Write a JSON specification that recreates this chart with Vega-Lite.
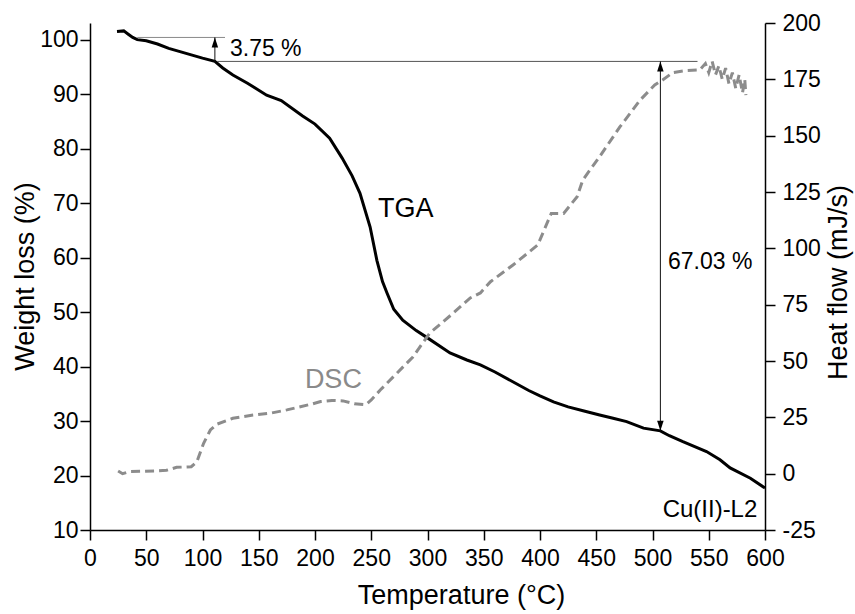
{
  "$schema": "https://vega.github.io/schema/vega-lite/v6.json",
  "width": 675,
  "height": 507,
  "autosize": {"type": "none"},
  "padding": {"left": 90, "top": 23, "right": 90, "bottom": 84},
  "background": "white",
  "config": {
    "view": {"stroke": null},
    "font": "Liberation Sans",
    "axis": {
      "grid": false,
      "domainColor": "black",
      "domainWidth": 1.5,
      "tickColor": "black",
      "tickWidth": 1.5,
      "tickSize": 10,
      "labelFont": "Liberation Sans",
      "labelFontSize": 23,
      "labelColor": "black",
      "titleFont": "Liberation Sans",
      "titleFontSize": 27,
      "titleFontWeight": "normal",
      "titleColor": "black"
    }
  },
  "datasets": {
    "tga": [
      {"T": 24, "v": 101.5}, {"T": 30, "v": 101.6}, {"T": 34, "v": 101.0}, {"T": 38, "v": 100.4},
      {"T": 42, "v": 100.0}, {"T": 50, "v": 99.8}, {"T": 60, "v": 99.2}, {"T": 70, "v": 98.4},
      {"T": 80, "v": 97.8}, {"T": 90, "v": 97.2}, {"T": 100, "v": 96.6}, {"T": 111, "v": 96.0},
      {"T": 118, "v": 94.8}, {"T": 127, "v": 93.5}, {"T": 140, "v": 92.0}, {"T": 157, "v": 89.8},
      {"T": 170, "v": 88.8}, {"T": 189, "v": 86.0}, {"T": 200, "v": 84.5}, {"T": 213, "v": 81.9},
      {"T": 224, "v": 78.3}, {"T": 233, "v": 75.0}, {"T": 240, "v": 71.8}, {"T": 249, "v": 65.6},
      {"T": 255, "v": 59.5}, {"T": 260, "v": 55.6}, {"T": 264, "v": 53.5}, {"T": 270, "v": 50.5},
      {"T": 278, "v": 48.5}, {"T": 290, "v": 46.6}, {"T": 299, "v": 45.4}, {"T": 320, "v": 42.5},
      {"T": 335, "v": 41.2}, {"T": 347, "v": 40.3}, {"T": 360, "v": 39.0}, {"T": 375, "v": 37.3},
      {"T": 390, "v": 35.6}, {"T": 400, "v": 34.6}, {"T": 412, "v": 33.5}, {"T": 425, "v": 32.6},
      {"T": 440, "v": 31.8}, {"T": 453, "v": 31.1}, {"T": 465, "v": 30.5}, {"T": 477, "v": 29.9},
      {"T": 492, "v": 28.7}, {"T": 507, "v": 28.2}, {"T": 515, "v": 27.3}, {"T": 527, "v": 26.2},
      {"T": 548, "v": 24.4}, {"T": 560, "v": 22.9}, {"T": 569, "v": 21.4}, {"T": 587, "v": 19.5},
      {"T": 600, "v": 17.7}
    ],
    "dsc": [
      {"T": 25, "h": 1.2}, {"T": 29, "h": 0}, {"T": 35, "h": 0.9}, {"T": 59, "h": 1.2},
      {"T": 68, "h": 1.5}, {"T": 77, "h": 2.8}, {"T": 90, "h": 3.1}, {"T": 95, "h": 5.3},
      {"T": 101, "h": 13.5}, {"T": 107, "h": 19.4}, {"T": 113, "h": 22.0}, {"T": 127, "h": 24.6},
      {"T": 145, "h": 26.0}, {"T": 160, "h": 26.8}, {"T": 175, "h": 28.3}, {"T": 187, "h": 29.7},
      {"T": 198, "h": 31.0}, {"T": 205, "h": 32.0}, {"T": 215, "h": 32.5}, {"T": 225, "h": 32.3},
      {"T": 235, "h": 31.0}, {"T": 245, "h": 30.6}, {"T": 250, "h": 32.7}, {"T": 258, "h": 37.1},
      {"T": 273, "h": 44.7}, {"T": 287, "h": 51.8}, {"T": 302, "h": 62.4}, {"T": 323, "h": 71.3},
      {"T": 338, "h": 78.0}, {"T": 347, "h": 80.2}, {"T": 356, "h": 85.2}, {"T": 376, "h": 92.6},
      {"T": 398, "h": 101.5}, {"T": 410, "h": 115.5}, {"T": 421, "h": 115.5}, {"T": 433, "h": 122.9},
      {"T": 438, "h": 130.3}, {"T": 453, "h": 140.7}, {"T": 471, "h": 153.9}, {"T": 489, "h": 165.8},
      {"T": 502, "h": 172.5}, {"T": 509, "h": 174.7}, {"T": 518, "h": 178.0}, {"T": 530, "h": 178.9},
      {"T": 542, "h": 179.2}, {"T": 547, "h": 182.0}, {"T": 550, "h": 178.0}, {"T": 553, "h": 183.0},
      {"T": 556, "h": 177.0}, {"T": 559, "h": 181.0}, {"T": 562, "h": 175.0}, {"T": 565, "h": 180.0},
      {"T": 568, "h": 173.0}, {"T": 571, "h": 178.0}, {"T": 574, "h": 171.0}, {"T": 577, "h": 177.0},
      {"T": 580, "h": 169.0}, {"T": 582, "h": 175.0}, {"T": 583, "h": 168.0}
    ],
    "rules": [
      {"T": 42, "T2": 120, "v": 100.4, "v2": 100.4, "kind": "bracket"},
      {"T": 113, "T2": 540, "v": 96.0, "v2": 96.0, "kind": "baseline"},
      {"T": 111, "T2": 111, "v": 96.0, "v2": 100.4, "kind": "arrow"},
      {"T": 507, "T2": 507, "v": 28.2, "v2": 96.0, "kind": "arrow"}
    ],
    "heads": [
      {"T": 111, "v": 100.4, "dir": "up"},
      {"T": 507, "v": 96.0, "dir": "up"},
      {"T": 507, "v": 28.2, "dir": "down"}
    ],
    "labels": [
      {"T": 124.4, "v": 98.3, "text": "3.75 %", "kind": "value"},
      {"T": 513.8, "v": 59.2, "text": "67.03 %", "kind": "value"},
      {"T": 256, "v": 68.9, "text": "TGA", "kind": "tga"},
      {"T": 191, "v": 37.5, "text": "DSC", "kind": "dsc"},
      {"T": 509, "v": 13.7, "text": "Cu(II)-L2", "kind": "sample"}
    ]
  },
  "layer": [
    {
      "layer": [
        {
          "data": {"name": "tga"},
          "mark": {"type": "line", "color": "black", "strokeWidth": 3},
          "encoding": {
            "x": {
              "field": "T", "type": "quantitative",
              "scale": {"domain": [0, 600], "nice": false, "zero": false},
              "axis": {
                "title": "Temperature (°C)",
                "values": [0, 50, 100, 150, 200, 250, 300, 350, 400, 450, 500, 550, 600],
                "labelPadding": 7,
                "labelFlush": false,
                "labelOverlap": false,
                "titleX": 371, "titleY": 65,
                "titleAlign": "center", "titleBaseline": "middle", "titleAnchor": null
              }
            },
            "y": {
              "field": "v", "type": "quantitative",
              "scale": {"domain": [10, 103.05], "nice": false, "zero": false},
              "axis": {
                "title": "Weight loss (%)",
                "orient": "left",
                "values": [10, 20, 30, 40, 50, 60, 70, 80, 90, 100],
                "labelPadding": 2,
                "labelFlush": false,
                "labelOverlap": false,
                "titleX": -65, "titleY": 253,
                "titleAngle": 270,
                "titleAlign": "center", "titleBaseline": "middle", "titleAnchor": null
              }
            }
          }
        },
        {
          "data": {"name": "rules"},
          "transform": [{"filter": "datum.kind == 'bracket'"}],
          "mark": {"type": "rule", "strokeWidth": 1, "color": "#8a8a8a"},
          "encoding": {
            "x": {"field": "T", "type": "quantitative"},
            "x2": {"field": "T2"},
            "y": {"field": "v", "type": "quantitative"},
            "y2": {"field": "v2"}
          }
        },
        {
          "data": {"name": "rules"},
          "transform": [{"filter": "datum.kind == 'baseline'"}],
          "mark": {"type": "rule", "strokeWidth": 1, "color": "#555555"},
          "encoding": {
            "x": {"field": "T", "type": "quantitative"},
            "x2": {"field": "T2"},
            "y": {"field": "v", "type": "quantitative"},
            "y2": {"field": "v2"}
          }
        },
        {
          "data": {"name": "rules"},
          "transform": [{"filter": "datum.kind == 'arrow'"}],
          "mark": {"type": "rule", "strokeWidth": 1, "color": "#111111"},
          "encoding": {
            "x": {"field": "T", "type": "quantitative"},
            "x2": {"field": "T2"},
            "y": {"field": "v", "type": "quantitative"},
            "y2": {"field": "v2"}
          }
        },
        {
          "data": {"name": "heads"},
          "mark": {"type": "point", "filled": true, "color": "black", "opacity": 1, "size": 100, "strokeWidth": 0},
          "encoding": {
            "x": {"field": "T", "type": "quantitative"},
            "y": {"field": "v", "type": "quantitative"},
            "shape": {
              "field": "dir", "type": "nominal", "legend": null,
              "scale": {"domain": ["up", "down"], "range": ["M0,0L0.65,2L-0.65,2Z", "M0,0L0.65,-2L-0.65,-2Z"]}
            }
          }
        },
        {
          "data": {"name": "labels"},
          "transform": [{"filter": "datum.kind == 'value'"}],
          "mark": {"type": "text", "align": "left", "baseline": "middle", "font": "Liberation Sans", "fontSize": 23, "color": "black"},
          "encoding": {
            "x": {"field": "T", "type": "quantitative"},
            "y": {"field": "v", "type": "quantitative"},
            "text": {"field": "text"}
          }
        },
        {
          "data": {"name": "labels"},
          "transform": [{"filter": "datum.kind == 'tga'"}],
          "mark": {"type": "text", "align": "left", "baseline": "middle", "font": "Liberation Sans", "fontSize": 27, "color": "black"},
          "encoding": {
            "x": {"field": "T", "type": "quantitative"},
            "y": {"field": "v", "type": "quantitative"},
            "text": {"field": "text"}
          }
        },
        {
          "data": {"name": "labels"},
          "transform": [{"filter": "datum.kind == 'dsc'"}],
          "mark": {"type": "text", "align": "left", "baseline": "middle", "font": "Liberation Sans", "fontSize": 27, "color": "#8a8a8a"},
          "encoding": {
            "x": {"field": "T", "type": "quantitative"},
            "y": {"field": "v", "type": "quantitative"},
            "text": {"field": "text"}
          }
        },
        {
          "data": {"name": "labels"},
          "transform": [{"filter": "datum.kind == 'sample'"}],
          "mark": {"type": "text", "align": "left", "baseline": "middle", "font": "Liberation Sans", "fontSize": 24, "color": "black"},
          "encoding": {
            "x": {"field": "T", "type": "quantitative"},
            "y": {"field": "v", "type": "quantitative"},
            "text": {"field": "text"}
          }
        }
      ]
    },
    {
      "data": {"name": "dsc"},
      "mark": {"type": "line", "color": "#8c8c8c", "strokeWidth": 3, "strokeDash": [9, 5]},
      "encoding": {
        "x": {"field": "T", "type": "quantitative"},
        "y": {
          "field": "h", "type": "quantitative",
          "scale": {"domain": [-25, 200], "nice": false, "zero": false},
          "axis": {
            "title": "Heat flow (mJ/s)",
            "orient": "right",
            "values": [-25, 0, 25, 50, 75, 100, 125, 150, 175, 200],
            "labelExpr": "replace(datum.label, '−', '-')",
            "labelPadding": 7,
            "labelFlush": false,
            "labelOverlap": false,
            "titleX": 73, "titleY": 259,
            "titleAngle": 270,
            "titleAlign": "center", "titleBaseline": "middle", "titleAnchor": null
          }
        }
      }
    }
  ],
  "resolve": {"scale": {"y": "independent"}}
}
